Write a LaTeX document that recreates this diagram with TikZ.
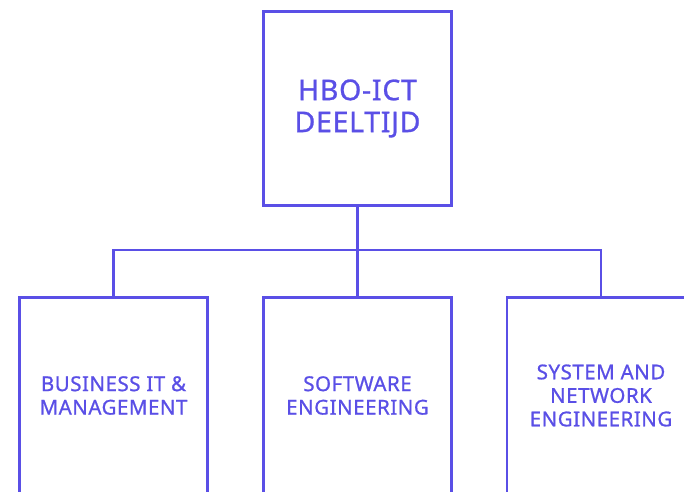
\documentclass[tikz,border=0pt]{standalone}
\usepackage{fontspec}
\setmainfont{Noto Sans}[FakeBold=0.9, LetterSpace=2.5]
\usepackage{xcolor}
\definecolor{vpurple}{HTML}{5A4FE6}
\tikzset{
	box/.style = {draw = vpurple, line width = 2.4pt, text = vpurple, minimum width = 188pt, inner sep = 0pt, align = center},
	link/.style = {draw = vpurple, line width = 2.4pt}
}

\begin{document}
\begin{tikzpicture}[x = 1pt, y = 1pt]
		% org chart
		\useasboundingbox (0,0) rectangle (684,491);
		\clip (0,0) rectangle (684,491);
		\node[box, minimum height = 194pt, font = \fontsize{28.5}{32}\selectfont\bfseries] (hbo) at (357.5,382.5) {HBO-ICT\\DEELTIJD};
		\node[box, minimum height = 196pt, font = \fontsize{20.5}{23.5}\selectfont\bfseries] (bim) at (113.5,95.5) {BUSINESS IT \&\\MANAGEMENT};
		\node[box, minimum height = 196pt, font = \fontsize{20.5}{23.5}\selectfont\bfseries] (se) at (357.5,95.5) {SOFTWARE\\ENGINEERING};
		\node[box, minimum height = 196pt, font = \fontsize{20.5}{23.5}\selectfont\bfseries] (sne) at (601,95.5) {SYSTEM AND\\NETWORK\\ENGINEERING};
		\coordinate (bus) at (357.5,241);
		\draw[link] (hbo.south) -- (bus);
		\draw[link] (bim.north) |- (bus) -| (sne.north);
		\draw[link] (bus) -- (se.north);
	\end{tikzpicture}
\end{document}
